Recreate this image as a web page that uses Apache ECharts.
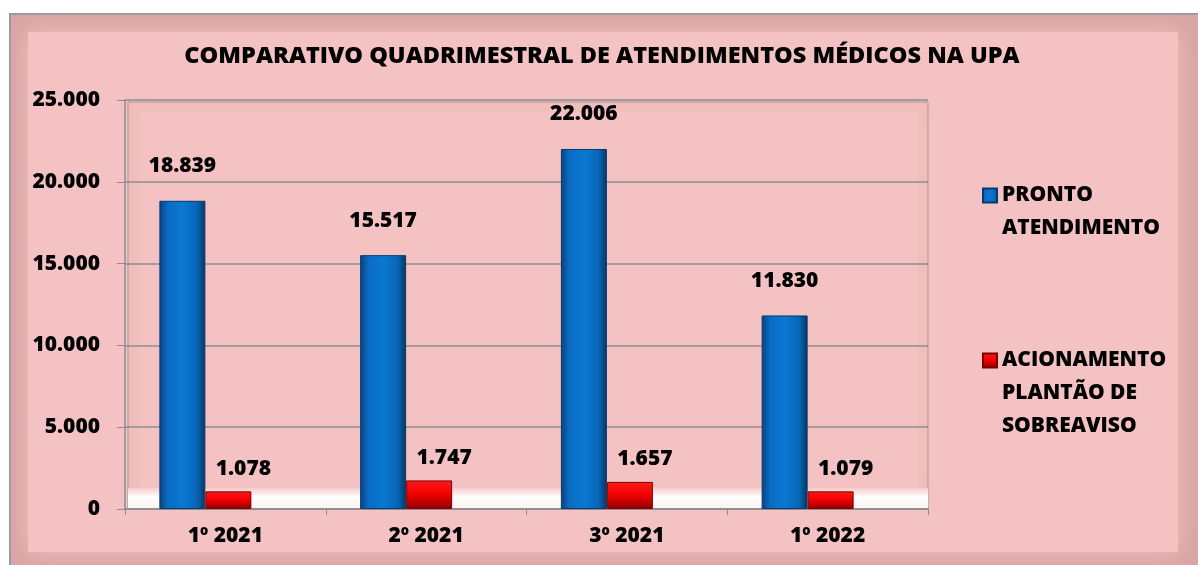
<!DOCTYPE html>
<html>
<head>
<meta charset="utf-8">
<script src="https://cdn.jsdelivr.net/npm/echarts@6/dist/echarts.min.js"></script>
<style>
  html, body { margin: 0; padding: 0; background: #fff; }
  #chart { width: 1198px; height: 565px; }
</style>
</head>
<body>
<div id="chart"></div>
<script>
  const categories = ["1º 2021", "2º 2021", "3º 2021", "1º 2022"];
  const prontoAtendimento = [18839, 15517, 22006, 11830];
  const acionamento = [1078, 1747, 1657, 1079];
  const seriesNames = ["PRONTO\nATENDIMENTO", "ACIONAMENTO\nPLANTÃO DE\nSOBREAVISO"];

  const fmt = (v) => v.toLocaleString("de-DE");
  const font = "'Open Sans', 'Liberation Sans', sans-serif";

  const myChart = echarts.init(document.getElementById("chart"));

  const blueFill = new echarts.graphic.LinearGradient(0, 0, 1, 0, [
    { offset: 0, color: "#0b3f7e" },
    { offset: 0.18, color: "#0a6cc2" },
    { offset: 0.5, color: "#0a78d2" },
    { offset: 0.82, color: "#0766b6" },
    { offset: 1, color: "#06355f" },
  ]);
  const redFill = new echarts.graphic.LinearGradient(0, 0, 0, 1, [
    { offset: 0, color: "#ff1a1a" },
    { offset: 0.5, color: "#f00000" },
    { offset: 1, color: "#8c0000" },
  ]);

  const labelText = {
    fontFamily: font,
    fontWeight: 800,
    fontSize: 21,
    color: "#000",
  };

  myChart.setOption({
    animation: false,
    backgroundColor: "#fff",
    graphic: [
      // outer frame
      {
        type: "rect",
        silent: true,
        z: -10,
        shape: { x: 10, y: 14, width: 1200, height: 560 },
        style: { fill: "#d9a4a4", stroke: "#9a9a9a", lineWidth: 2 },
      },
      {
        type: "rect",
        silent: true,
        z: -9,
        shape: { x: 28, y: 32, width: 1150, height: 520 },
        style: { fill: "#f4c2c2", shadowBlur: 22, shadowColor: "#f4c2c2" },
      },
      // back wall of plot
      {
        type: "rect",
        silent: true,
        z: -8,
        shape: { x: 128, y: 102, width: 800, height: 407 },
        style: { fill: "#f0bcbc", stroke: "#9a9a9a", lineWidth: 1 },
      },
      {
        type: "rect",
        silent: true,
        z: -7,
        shape: { x: 140, y: 112, width: 778, height: 376 },
        style: { fill: "#f4c2c2", shadowBlur: 14, shadowColor: "#f4c2c2" },
      },
      // floor
      {
        type: "rect",
        silent: true,
        z: -6,
        shape: { x: 128, y: 488, width: 800, height: 21 },
        style: {
          fill: new echarts.graphic.LinearGradient(0, 0, 0, 1, [
            { offset: 0, color: "#f6cccc" },
            { offset: 0.45, color: "#ffffff" },
            { offset: 1, color: "#fdf2f2" },
          ]),
        },
      },
    ],
    title: {
      text: "COMPARATIVO QUADRIMESTRAL DE ATENDIMENTOS MÉDICOS NA UPA",
      left: 597,
      textAlign: "center",
      top: 39,
      textStyle: { fontFamily: font, fontWeight: 800, fontSize: 23.5, color: "#000" },
    },
    legend: {
      orient: "vertical",
      left: 977,
      top: 141,
      itemGap: 33,
      itemWidth: 14,
      itemHeight: 14,
      icon: "rect",
      align: "left",
      formatter: (name) => (name.startsWith("PRONTO") ? "\n" + name : "\n\n" + name),
      textStyle: Object.assign({ lineHeight: 33 }, labelText),
      data: seriesNames,
    },
    grid: [
      { left: 125, right: 270, top: 100, bottom: 56 },
      // bars sit a little left of the category centre (3D perspective in the original)
      { left: 105, right: 290, top: 100, bottom: 56 },
    ],
    xAxis: [
      {
        type: "category",
        gridIndex: 0,
        data: categories,
        axisLine: { lineStyle: { color: "#8c8c8c", width: 1.5 } },
        axisTick: { show: true, length: 6, lineStyle: { color: "#8c8c8c" } },
        axisLabel: Object.assign({ margin: 17 }, labelText),
      },
      {
        type: "category",
        gridIndex: 1,
        data: categories,
        show: false,
      },
    ],
    yAxis: [
      {
        type: "value",
        gridIndex: 0,
        min: 0,
        max: 25000,
        interval: 5000,
        axisLine: { show: true, lineStyle: { color: "#8c8c8c", width: 1.5 } },
        axisTick: { show: true, length: 8, lineStyle: { color: "#8c8c8c" } },
        splitLine: { lineStyle: { color: "#8c8c8c", width: 1.5 } },
        axisLabel: Object.assign({ margin: 25, formatter: (v) => fmt(v) }, labelText),
      },
      {
        type: "value",
        gridIndex: 1,
        min: 0,
        max: 25000,
        interval: 5000,
        show: false,
        splitLine: { show: false },
      },
    ],
    series: [
      {
        name: seriesNames[0],
        type: "bar",
        xAxisIndex: 1,
        yAxisIndex: 1,
        data: prontoAtendimento,
        barWidth: 46,
        barGap: "0%",
        itemStyle: { color: blueFill, borderColor: "#073a6c", borderWidth: 1 },
        label: Object.assign(
          { show: true, position: "top", distance: 24, formatter: (p) => fmt(p.value) },
          labelText
        ),
      },
      {
        name: seriesNames[1],
        type: "bar",
        xAxisIndex: 1,
        yAxisIndex: 1,
        data: acionamento,
        barWidth: 46,
        barGap: "0%",
        itemStyle: { color: redFill, borderColor: "#7a0000", borderWidth: 1 },
        label: Object.assign(
          { show: true, position: "top", distance: 12, offset: [15, 0], formatter: (p) => fmt(p.value) },
          labelText
        ),
      },
    ],
  });
</script>
</body>
</html>
